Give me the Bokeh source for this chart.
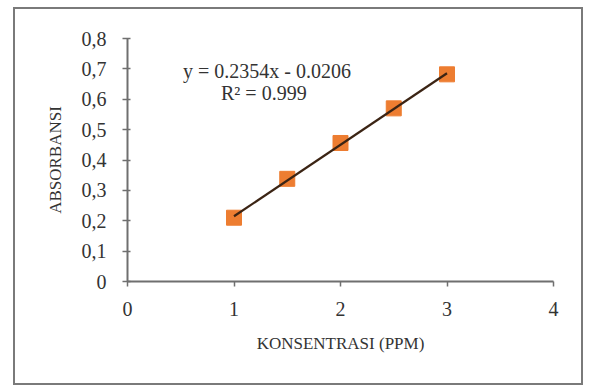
from bokeh.plotting import figure
from bokeh.embed import file_html
from bokeh.resources import INLINE
from bokeh.models import CustomJSTickFormatter, Range1d, FixedTicker, Label

# data
konsentrasi = [1.0, 1.5, 2.0, 2.5, 3.0]
absorbansi = [0.21, 0.338, 0.456, 0.57, 0.682]
slope = 0.2354
intercept = -0.0206
x_ticks = [0, 1, 2, 3, 4]
y_ticks = [0, 0.1, 0.2, 0.3, 0.4, 0.5, 0.6, 0.7, 0.8]
eq_text = "y = 0.2354x - 0.0206"
r2_text = "R² = 0.999"
x_label = "KONSENTRASI (PPM)"
y_label = "ABSORBANSI"

FONT = "Liberation Serif"
TXT = "#333333"

p = figure(width=570, height=378, output_backend="svg", toolbar_location=None,
           x_range=Range1d(0, 4), y_range=Range1d(0, 0.8),
           min_border_left=112, min_border_right=32, min_border_top=29, min_border_bottom=106)
p.styles = {"margin-left": "13px", "margin-top": "7px", "border": "2px solid #7a7a7a",
            "box-sizing": "border-box"}
p.outline_line_color = None
p.xgrid.visible = False
p.ygrid.visible = False

# trendline
tx = [konsentrasi[0], konsentrasi[-1]]
ty = [slope * v + intercept for v in tx]
p.scatter(konsentrasi, absorbansi, marker="square", size=15, fill_color="#ED7D31",
          line_color="#ED7D31")
p.line(tx, ty, line_color="#3b2414", line_width=2.2)

for ax in (p.xaxis[0], p.yaxis[0]):
    ax.axis_line_color = "#6f6f6f"
    ax.axis_line_width = 2
    ax.major_tick_line_color = "#6f6f6f"
    ax.major_tick_line_width = 1.5
    ax.minor_tick_line_color = None
    ax.major_label_text_font = FONT
    ax.major_label_text_font_size = "20px"
    ax.major_label_text_color = TXT
    ax.axis_label_text_font = FONT
    ax.axis_label_text_font_size = "17px"
    ax.axis_label_text_font_style = "normal"
    ax.axis_label_text_color = TXT

p.xaxis.ticker = FixedTicker(ticks=x_ticks)
p.yaxis.ticker = FixedTicker(ticks=y_ticks)
p.xaxis.major_tick_in = 0
p.xaxis.major_tick_out = 5
p.yaxis.major_tick_in = 3
p.yaxis.major_tick_out = 5
p.xaxis.major_label_standoff = 15
p.yaxis.major_label_standoff = 16
p.xaxis.axis_label = x_label
p.yaxis.axis_label = y_label
p.xaxis.axis_label_standoff = 15
p.yaxis.axis_label_standoff = 14
p.yaxis.formatter = CustomJSTickFormatter(
    code="return tick == 0 ? '0' : tick.toFixed(1).replace('.', ',');")
p.xaxis.formatter = CustomJSTickFormatter(code="return tick.toFixed(0);")

p.add_layout(Label(x=1.31, y=0.692, text=eq_text, text_font=FONT, text_font_size="20px",
                   text_color=TXT, text_align="center", text_baseline="middle"))
p.add_layout(Label(x=1.28, y=0.62, text=r2_text, text_font=FONT, text_font_size="20px",
                   text_color=TXT, text_align="center", text_baseline="middle"))

open("out.html", "w").write(file_html(p, INLINE))
